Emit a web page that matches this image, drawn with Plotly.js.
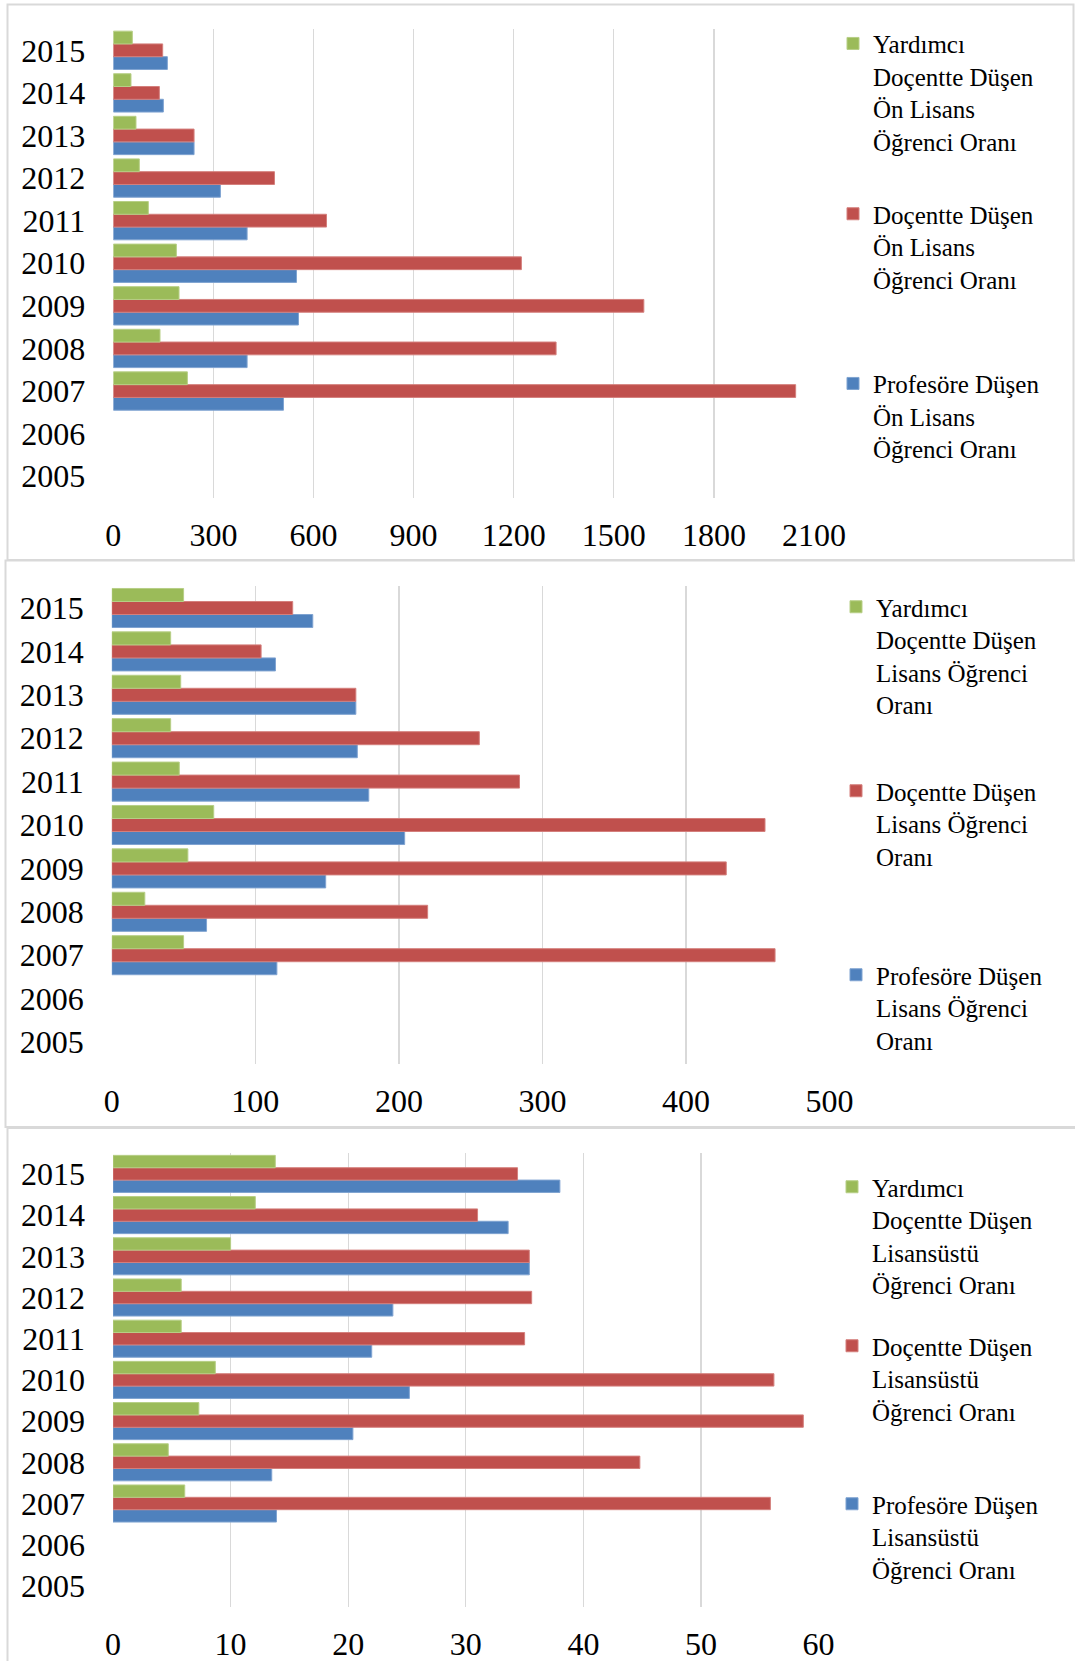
<!DOCTYPE html>
<html>
<head>
<meta charset="utf-8">
<script src="https://cdn.plot.ly/plotly-3.0.1.min.js"></script>
<style>
html,body{margin:0;padding:0;background:#fff;}
#chart{width:1075px;height:1661px;}
</style>
</head>
<body>
<div id="chart"></div>
<script>
// ---- data ----
const years = ['2005','2006','2007','2008','2009','2010','2011','2012','2013','2014','2015'];

// Panel 1: Ön Lisans
const onlisansProf = [null,null,510,401,555,549,401,321,242,150,162];
const onlisansDoc  = [null,null,2045,1327,1590,1223,639,483,242,138,148];
const onlisansYrd  = [null,null,222,140,197,189,105,78,68,53,57];

// Panel 2: Lisans
const lisansProf = [null,null,115,66,149,204,179,171,170,114,140];
const lisansDoc  = [null,null,462,220,428,455,284,256,170,104,126];
const lisansYrd  = [null,null,50,23,53,71,47,41,48,41,50];

// Panel 3: Lisansüstü
const lustuProf = [null,null,13.9,13.5,20.4,25.2,22.0,23.8,35.4,33.6,38.0];
const lustuDoc  = [null,null,55.9,44.8,58.7,56.2,35.0,35.6,35.4,31.0,34.4];
const lustuYrd  = [null,null,6.1,4.7,7.3,8.7,5.8,5.8,10.0,12.1,13.8];

const names1 = ['Profesöre Düşen<br>Ön Lisans<br>Öğrenci Oranı','Doçentte Düşen<br>Ön Lisans<br>Öğrenci Oranı','Yardımcı<br>Doçentte Düşen<br>Ön Lisans<br>Öğrenci Oranı'];
const names2 = ['Profesöre Düşen<br>Lisans Öğrenci<br>Oranı','Doçentte Düşen<br>Lisans Öğrenci<br>Oranı','Yardımcı<br>Doçentte Düşen<br>Lisans Öğrenci<br>Oranı'];
const names3 = ['Profesöre Düşen<br>Lisansüstü<br>Öğrenci Oranı','Doçentte Düşen<br>Lisansüstü<br>Öğrenci Oranı','Yardımcı<br>Doçentte Düşen<br>Lisansüstü<br>Öğrenci Oranı'];

const xTicks1 = [0,300,600,900,1200,1500,1800,2100];
const xTicks2 = [0,100,200,300,400,500];
const xTicks3 = [0,10,20,30,40,50,60];

// ---- styling ----
const W = 1075, H = 1661;
const FONT = 'Liberation Serif, Times New Roman, serif';
const colors = ['#4F81BD','#C0504D','#9BBB59'];
const edge = ['#7FA3D1','#D47F7C','#B7CF86'];

const panels = [
  {vals:[onlisansProf,onlisansDoc,onlisansYrd], names:names1, ticks:xTicks1,
   px:[113.3,814], py:[29,497.5], leg:[[873,385.7],[873,216],[873,45.7]]},
  {vals:[lisansProf,lisansDoc,lisansYrd], names:names2, ticks:xTicks2,
   px:[111.8,829.6], py:[586.3,1063.7], leg:[[876,977],[876,793],[876,609]]},
  {vals:[lustuProf,lustuDoc,lustuYrd], names:names3, ticks:xTicks3,
   px:[113,818.6], py:[1153.3,1606.5], leg:[[872,1506],[872,1348],[872,1189]]}
];

const traces = [];
const layout = {
  width: W, height: H,
  margin: {l:0,r:0,t:0,b:0},
  showlegend: true,
  paper_bgcolor: '#fff', plot_bgcolor: 'rgba(0,0,0,0)',
  barmode: 'group', bargap: 0.1, bargroupgap: 0,
  font: {family: FONT, color: '#000', size: 32},
  shapes: [
    {type:'rect', xref:'paper', yref:'paper', x0:7.5/W, x1:1073.5/W, y0:1-560/H, y1:1-4.5/H, line:{color:'#d9d9d9', width:2}},
    {type:'rect', xref:'paper', yref:'paper', x0:5.5/W, x1:1090/W, y0:1-1127/H, y1:1-560.5/H, line:{color:'#d9d9d9', width:2}},
    {type:'rect', xref:'paper', yref:'paper', x0:7.5/W, x1:1090/W, y0:1-1700/H, y1:1-1128/H, line:{color:'#d9d9d9', width:2}}
  ]
};

let legIdx = 0;
panels.forEach((p, i) => {
  const xa = i === 0 ? 'xaxis' : 'xaxis' + (i+1);
  const ya = i === 0 ? 'yaxis' : 'yaxis' + (i+1);
  const xr = i === 0 ? 'x' : 'x' + (i+1);
  const yr = i === 0 ? 'y' : 'y' + (i+1);
  const maxT = p.ticks[p.ticks.length-1];
  layout[xa] = {
    domain: [p.px[0]/W, p.px[1]/W],
    anchor: yr,
    range: [0, maxT],
    tickvals: p.ticks,
    ticktext: p.ticks.map(String),
    showgrid: true, gridcolor: '#d9d9d9', gridwidth: 1.3,
    zeroline: false, showline: false, ticks: '',
    tickfont: {family: FONT, size: 32, color: '#000'},
    ticklabelstandoff: 15,
    fixedrange: true
  };
  layout[ya] = {
    domain: [1 - p.py[1]/H, 1 - p.py[0]/H],
    anchor: xr,
    type: 'category',
    categoryorder: 'array', categoryarray: years,
    tickvals: years, ticktext: years,
    range: [-0.5, years.length - 0.5],
    showgrid: false, zeroline: false, showline: false, ticks: '',
    tickfont: {family: FONT, size: 32, color: '#000'},
    ticklabelstandoff: 27,
    fixedrange: true
  };
  p.vals.forEach((v, k) => {
    legIdx++;
    const lname = legIdx === 1 ? 'legend' : 'legend' + legIdx;
    traces.push({
      type: 'bar', orientation: 'h',
      x: v, y: years,
      name: p.names[k],
      xaxis: xr, yaxis: yr,
      legend: lname,
      showlegend: true,
      marker: {color: colors[k], line: {color: edge[k], width: 1}},
      hoverinfo: 'x+y'
    });
    layout[lname] = {
      visible: true,
      x: (p.leg[k][0] - 40)/W, xanchor: 'left',
      y: 1 - (p.leg[k][1] - 25)/H, yanchor: 'top',
      bgcolor: 'rgba(0,0,0,0)', borderwidth: 0,
      valign: 'top',
      font: {family: FONT, size: 25, color: '#000'},
      itemclick: false, itemdoubleclick: false
    };
  });
});

Plotly.newPlot('chart', traces, layout, {displayModeBar: false, staticPlot: true});
</script>
</body>
</html>
